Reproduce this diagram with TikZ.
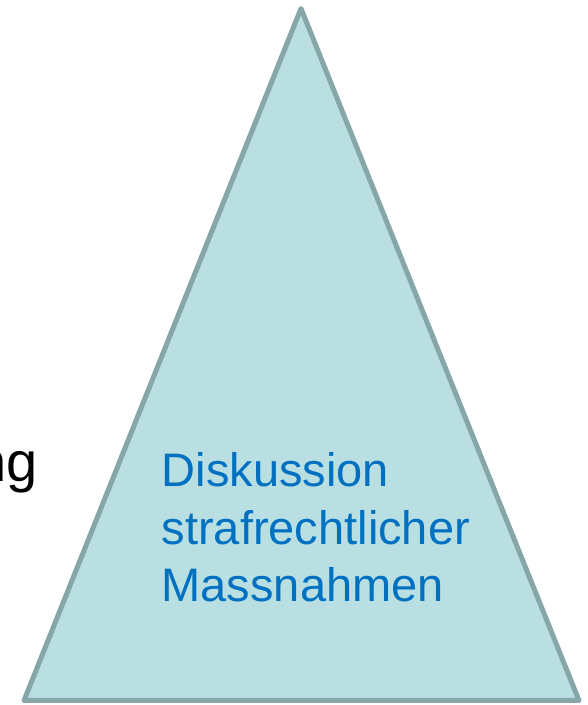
\documentclass[tikz,border=0pt]{standalone}
\usepackage{fontspec}
\setmainfont{Liberation Sans}
\definecolor{triedge}{HTML}{87A6A8}
\definecolor{trifill}{HTML}{B9DFE2}
\definecolor{txtblue}{HTML}{0070C0}
\tikzset{
  pyramid/.style={draw=triedge, fill=trifill, line width=5pt, line join=round},
  bluetext/.style={text=txtblue, font=\fontsize{47}{57.5}\selectfont, align=left, inner sep=0pt},
  blacktext/.style={text=black, font=\fontsize{56}{64}\selectfont, inner sep=0pt}
}
\begin{document}
\begin{tikzpicture}[x=1pt,y=1pt]
\useasboundingbox (0,0) rectangle (588,705);
\coordinate (apex) at (301,696.5);
\coordinate (bl) at (24,4.5);
\coordinate (br) at (579,4.5);
\draw[pyramid] (apex) -- (bl) -- (br) -- cycle;
\node[bluetext, anchor=base west] (label) at (161.5,103) {Diskussion\\strafrechtlicher\\Massnahmen};
\node[blacktext, anchor=base west] (side) at (-25,223) {ng};
\end{tikzpicture}
\end{document}
